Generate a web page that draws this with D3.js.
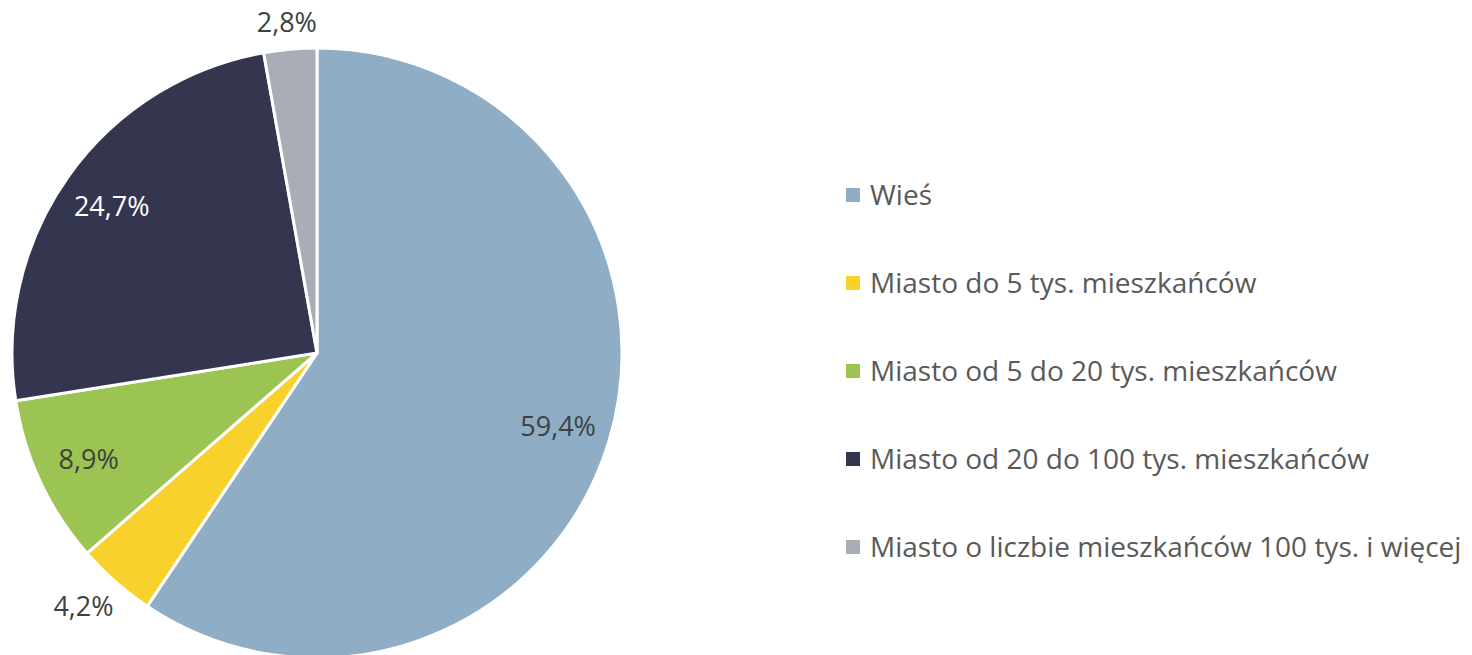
<!DOCTYPE html>
<html>
<head>
<meta charset="utf-8">
<script src="https://cdn.jsdelivr.net/npm/d3@7"></script>
<style>
  body { margin: 0; background: #fff; }
  svg { display: block; font-family: "Open Sans", Lato, sans-serif; }
</style>
</head>
<body>
<svg id="chart" width="1472" height="655"></svg>
<script>
const categories = [
  "Wieś",
  "Miasto do 5 tys. mieszkańców",
  "Miasto od 5 do 20 tys. mieszkańców",
  "Miasto od 20 do 100 tys. mieszkańców",
  "Miasto o liczbie mieszkańców 100 tys. i więcej"
];
const values = [59.4, 4.2, 8.9, 24.7, 2.8];
const colors = ["#8FAEC6", "#F9D12D", "#9BC453", "#343650", "#A9ADB6"];

const data = categories.map((c, i) => ({ name: c, value: values[i], color: colors[i] }));

const svg = d3.select("#chart");
const cx = 317, cy = 353, radius = 305;

const pie = d3.pie().sort(null).value(d => d.value);
const arcs = pie(data);

const arc = d3.arc().innerRadius(0).outerRadius(radius);
const inLabel = d3.arc().innerRadius(252).outerRadius(252);

const g = svg.append("g").attr("transform", `translate(${cx},${cy})`);

g.selectAll("path")
  .data(arcs)
  .join("path")
  .attr("d", arc)
  .attr("fill", d => d.data.color)
  .attr("stroke", "#fff")
  .attr("stroke-width", 3)
  .attr("stroke-linejoin", "round");

const fmt = v => v.toFixed(1).replace(".", ",") + "%";

const labels = g.selectAll("text.lbl")
  .data(arcs)
  .join("text")
  .attr("class", "lbl")
  .attr("text-anchor", "middle")
  .attr("dy", "0.35em")
  .style("font-size", "27px")
  .attr("fill", d => d.data.color === "#343650" ? "#fff" : "#404040")
  .text(d => fmt(d.data.value));

// small slices get their label outside, box pushed off the rim
labels.attr("transform", function (d) {
  if (d.data.value >= 5) {
    const p = inLabel.centroid(d);
    return `translate(${p[0]},${p[1]})`;
  }
  const bb = this.getBBox();
  const a = (d.startAngle + d.endAngle) / 2;
  const s = Math.sin(a), c = -Math.cos(a);
  const r = radius + 8;
  const m = Math.max(Math.abs(s), Math.abs(c));
  const x = s * r + (s / m) * bb.width / 2;
  const y = c * r + (c / m) * bb.height / 2;
  return `translate(${x},${y})`;
});

// legend
const legend = svg.append("g").attr("transform", "translate(846,195)");
const row = legend.selectAll("g")
  .data(data)
  .join("g")
  .attr("transform", (d, i) => `translate(0,${i * 88})`);

row.append("rect")
  .attr("x", 0).attr("y", -7)
  .attr("width", 14).attr("height", 14)
  .attr("fill", d => d.color);

row.append("text")
  .attr("x", 24)
  .attr("dy", "0.35em")
  .style("font-size", "28px")
  .attr("fill", "#595959")
  .text(d => d.name);
</script>
</body>
</html>
